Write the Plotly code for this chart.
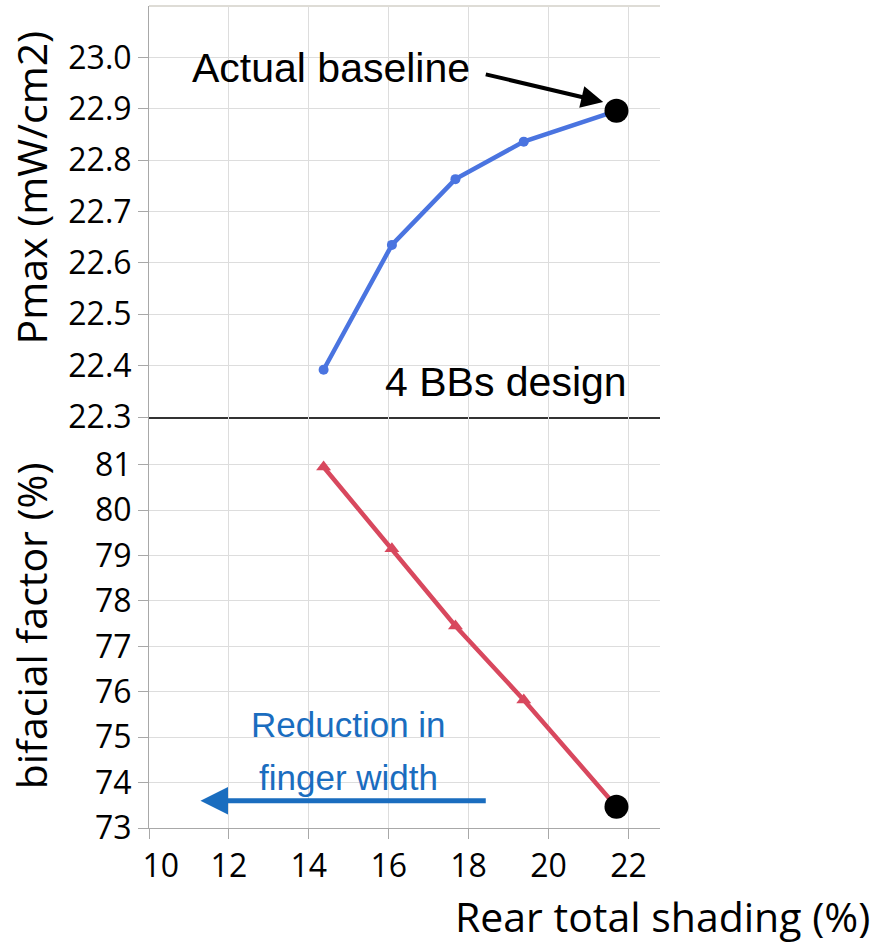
import plotly.graph_objects as go
from plotly.subplots import make_subplots

# ---- data ----
rear_shading = [14.37, 16.08, 17.67, 19.38, 21.70]          # Rear total shading (%)
pmax = [22.392, 22.635, 22.763, 22.836, 22.896]             # Pmax (mW/cm2)
bifacial = [80.95, 79.15, 77.45, 75.82, 73.47]              # bifacial factor (%)

x_ticks = [10, 12, 14, 16, 18, 20, 22]
x_ticktext = ["\u2007\u200910", "12", "14", "16", "18", "20", "22"]
pmax_ticks = [22.3, 22.4, 22.5, 22.6, 22.7, 22.8, 22.9, 23.0]
bif_ticks = [73, 74, 75, 76, 77, 78, 79, 80, 81]

BLUE = "#4A74E0"
RED = "#D8485E"
ANN_BLUE = "#1A6DBF"
GRID = "#DDDDDD"
AXIS = "#A8A8A8"
TICK_FONT = dict(family="Open Sans", size=32, color="#000000")
TITLE_FONT = dict(family="Open Sans", size=41, color="#000000")
ARIAL = "Liberation Sans, Arial"

fig = make_subplots(rows=2, cols=1, shared_xaxes=True, vertical_spacing=0)

fig.add_trace(go.Scatter(x=rear_shading, y=pmax, mode="lines+markers",
                         line=dict(color=BLUE, width=4.5),
                         marker=dict(color=BLUE, size=10, symbol="circle"),
                         showlegend=False), row=1, col=1)
fig.add_trace(go.Scatter(x=[rear_shading[-1]], y=[pmax[-1]], mode="markers",
                         marker=dict(color="#000000", size=24),
                         showlegend=False), row=1, col=1)

fig.add_trace(go.Scatter(x=rear_shading, y=bifacial, mode="lines+markers",
                         line=dict(color=RED, width=4.5),
                         marker=dict(color=RED, size=13, symbol="triangle-up"),
                         showlegend=False), row=2, col=1)
fig.add_trace(go.Scatter(x=[rear_shading[-1]], y=[bifacial[-1]], mode="markers",
                         marker=dict(color="#000000", size=24),
                         showlegend=False), row=2, col=1)

xr = [10, 22.79]
fig.update_xaxes(range=xr, tickvals=x_ticks, showgrid=True, gridcolor=GRID,
                 gridwidth=1, zeroline=False)
fig.update_xaxes(row=1, col=1, showticklabels=False, ticks="",
                 showline=True, linecolor="#333333", linewidth=1.5)
fig.update_xaxes(row=2, col=1, ticktext=x_ticktext, ticks="outside", ticklen=10,
                 tickcolor=AXIS, showline=True, linecolor=AXIS, linewidth=1,
                 tickfont=TICK_FONT)

fig.update_yaxes(row=1, col=1, range=[22.3, 23.1], tickvals=pmax_ticks,
                 tickformat=".1f", ticks="outside", ticklen=10, tickcolor=AXIS,
                 showline=True, linecolor=AXIS, linewidth=1, showgrid=True,
                 gridcolor=GRID, zeroline=False, tickfont=TICK_FONT)
fig.update_yaxes(row=2, col=1, range=[73, 82.05], tickvals=bif_ticks,
                 ticks="outside", ticklen=10, tickcolor=AXIS,
                 showline=True, linecolor=AXIS, linewidth=1, showgrid=True,
                 gridcolor=GRID, zeroline=False, tickfont=TICK_FONT)

annotations = [
    # axis titles
    dict(text="Pmax (mW/cm2)", xref="paper", yref="paper", x=-0.232,
         y=(828.3 - 187) / 822.3, textangle=-90, showarrow=False,
         xanchor="center", yanchor="middle", font=TITLE_FONT),
    dict(text="bifacial factor (%)", xref="paper", yref="paper", x=-0.232,
         y=(828.3 - 626) / 822.3, textangle=-90, showarrow=False,
         xanchor="center", yanchor="middle", font=TITLE_FONT),
    dict(text="Rear total shading (%)", xref="paper", yref="paper",
         x=(872 - 148.5) / 511.5, y=(828.3 - 886) / 822.3, showarrow=False,
         xanchor="right", yanchor="top", font=TITLE_FONT),
    # texts
    dict(text="Actual baseline", xref="x", yref="y", x=10 + (190 - 148.5) / 39.98,
         y=22.3 + (416.7 - 68) / 513.3, showarrow=False, xanchor="left",
         yanchor="middle", font=dict(family=ARIAL, size=41, color="#000000")),
    dict(text="4 BBs design", xref="x", yref="y", x=10 + (383 - 148.5) / 39.98,
         y=22.3 + (416.7 - 382) / 513.3, showarrow=False, xanchor="left",
         yanchor="middle", font=dict(family=ARIAL, size=41, color="#000000")),
    dict(text="Reduction in", xref="x2", yref="y2", x=10 + (348 - 148.5) / 39.98,
         y=73 + (828.3 - 725) / 45.5, showarrow=False, xanchor="center",
         yanchor="middle", font=dict(family=ARIAL, size=35, color=ANN_BLUE)),
    dict(text="finger width", xref="x2", yref="y2", x=10 + (348 - 148.5) / 39.98,
         y=73 + (828.3 - 778) / 45.5, showarrow=False, xanchor="center",
         yanchor="middle", font=dict(family=ARIAL, size=35, color=ANN_BLUE)),
    # arrows
    dict(text="", xref="x", yref="y", axref="x", ayref="y",
         x=10 + (603 - 148.5) / 39.98, y=22.3 + (416.7 - 102) / 513.3,
         ax=10 + (484 - 148.5) / 39.98, ay=22.3 + (416.7 - 74) / 513.3,
         showarrow=True, arrowhead=2, arrowsize=1.1, arrowwidth=4,
         arrowcolor="#000000"),
    dict(text="", xref="x2", yref="y2", axref="x2", ayref="y2",
         x=10 + (200 - 148.5) / 39.98, y=73 + (828.3 - 801) / 45.5,
         ax=10 + (487 - 148.5) / 39.98, ay=73 + (828.3 - 801) / 45.5,
         showarrow=True, arrowhead=2, arrowsize=1.1, arrowwidth=5,
         arrowcolor=ANN_BLUE),
]

shapes = [
    dict(type="line", xref="paper", yref="paper", x0=0, x1=1, y0=1, y1=1,
         line=dict(color="#DEDCD6", width=2)),
]

fig.update_layout(
    width=877, height=943,
    margin=dict(l=148.5, r=217, t=6, b=114.7, pad=0),
    plot_bgcolor="#FFFFFF", paper_bgcolor="#FFFFFF",
    annotations=annotations, shapes=shapes, showlegend=False,
)

fig.write_html("out.html")
